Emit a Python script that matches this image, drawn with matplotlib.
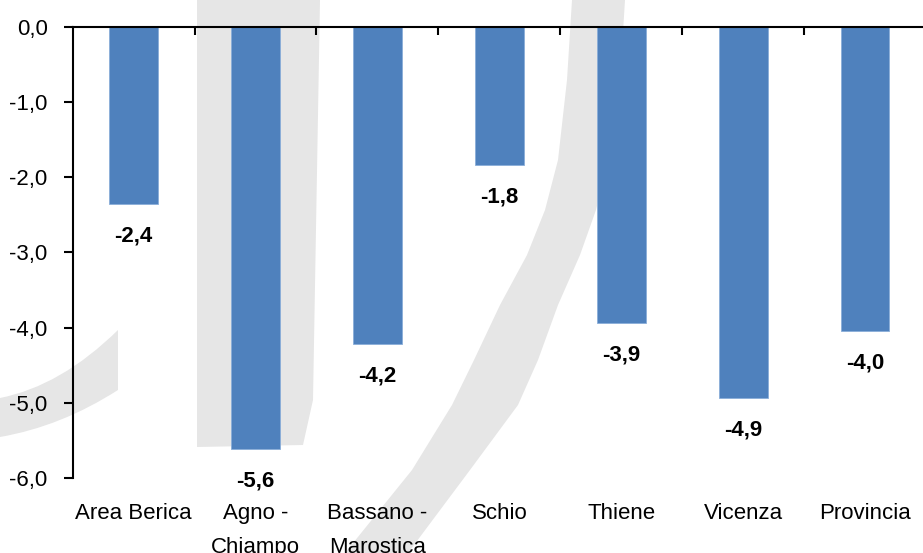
import matplotlib
matplotlib.use("Agg")
import matplotlib.pyplot as plt
from matplotlib.path import Path
from matplotlib.patches import PathPatch, Polygon
import numpy as np

# --- data -------------------------------------------------------------
categories = ["Area Berica", "Agno -\nChiampo", "Bassano -\nMarostica",
              "Schio", "Thiene", "Vicenza", "Provincia"]
values = [-2.36, -5.61, -4.22, -1.84, -3.94, -4.94, -4.04]
y_ticks = [0, -1, -2, -3, -4, -5, -6]
y_tick_labels = ["0,0", "-1,0", "-2,0", "-3,0", "-4,0", "-5,0", "-6,0"]

W, H = 923, 553
FONT = "Liberation Sans"
FS = 16
BAR_COLOR = "#4f81bd"
WM_COLOR = "#e6e6e6"

fig = plt.figure(figsize=(W / 100, H / 100), dpi=100)
fig.patch.set_facecolor("white")


def px(x, y):
    """pixel position (origin top-left) -> figure fraction"""
    return (x / W, 1 - y / H)


# --- background watermark --------------------------------------------
# vertical band
band = Polygon([px(197, 0), px(320, 0), px(313, 400), px(303, 445), px(197, 447)],
               closed=True, transform=fig.transFigure, facecolor=WM_COLOR,
               edgecolor="none", zorder=-5)
fig.add_artist(band)

# sweeping arc through the middle
left_edge = [(572, 0), (567, 80), (558, 160), (545, 210), (527, 255),
             (500, 305), (474, 360), (452, 405), (412, 470), (345, 553)]
right_edge = [(625, 0), (620, 80), (608, 160), (596, 210), (580, 255),
              (558, 305), (538, 360), (518, 405), (470, 470), (408, 553)]
arc_pts = [px(*p) for p in left_edge] + [px(*p) for p in right_edge[::-1]]
fig.add_artist(Polygon(arc_pts, closed=True, transform=fig.transFigure,
                       facecolor=WM_COLOR, edgecolor="none", zorder=-5))

# curved piece on the left
verts = [px(0, 398), px(61, 386), px(118, 330), px(118, 390),
         px(61, 426.5), px(0, 437), px(0, 398)]
codes = [Path.MOVETO, Path.CURVE3, Path.CURVE3, Path.LINETO,
         Path.CURVE3, Path.CURVE3, Path.CLOSEPOLY]
fig.add_artist(PathPatch(Path(verts, codes), transform=fig.transFigure,
                         facecolor=WM_COLOR, edgecolor="none", zorder=-5))

# --- axes -------------------------------------------------------------
x0, x1 = 72.7, 926.0
y0, y1 = 26.7, 478.0
ax = fig.add_axes([x0 / W, 1 - y1 / H, (x1 - x0) / W, (y1 - y0) / H])
ax.patch.set_alpha(0)

x = np.arange(len(categories))
bars = ax.bar(x, values, width=0.4, color=BAR_COLOR, edgecolor="#8aaed9",
              linewidth=0.6, zorder=2)

for xi, v in zip(x, values):
    ax.annotate(f"{v:.1f}".replace(".", ","), xy=(xi, v), xytext=(0, -27),
                textcoords="offset points", ha="center", va="baseline",
                fontsize=FS, fontweight="bold", family=FONT, color="black")

ax.set_xlim(-0.5, len(categories) - 0.5)
ax.set_ylim(-6, 0)

for side in ("right", "bottom"):
    ax.spines[side].set_visible(False)
for side in ("top", "left"):
    ax.spines[side].set_linewidth(1.5)
    ax.spines[side].set_color("black")

ax.set_yticks(y_ticks)
ax.set_yticklabels(y_tick_labels, family=FONT, fontsize=FS)
ax.tick_params(axis="y", direction="out", length=6.5, width=1.5, pad=11.5)

ax.set_xticks(x)
ax.set_xticklabels(categories, family=FONT, fontsize=FS, linespacing=1.8)
ax.set_xticks(np.arange(0.5, len(categories) - 0.5, 1.0), minor=True)
ax.tick_params(axis="x", which="major", bottom=True, top=False, length=0, pad=18)
ax.tick_params(axis="x", which="minor", bottom=False, top=True,
               direction="in", length=5.5, width=1.5)

fig.savefig("out.png", dpi=100)
